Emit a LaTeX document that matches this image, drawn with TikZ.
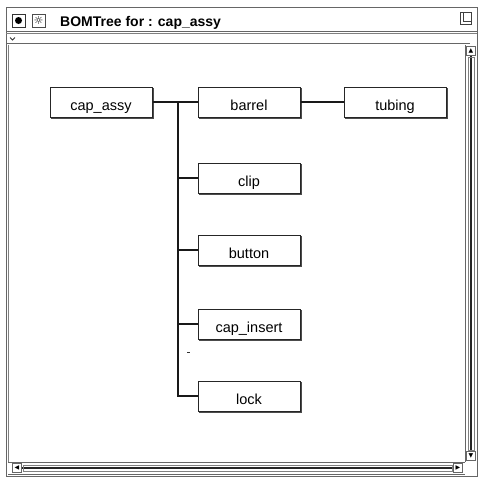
\documentclass[tikz,border=0pt]{standalone}
\usepackage{fontspec}
\setmainfont{Liberation Sans}
\usetikzlibrary{shadows}
\begin{document}
\begin{tikzpicture}[x=1pt,y=-1pt,
  part/.style={draw=black!85,line width=1pt,fill=white,minimum width=102pt,minimum height=30pt,inner sep=0pt,
    text height=16pt,text depth=0pt,font=\fontsize{14.5}{16}\selectfont,
    copy shadow={shadow xshift=1.5pt,shadow yshift=-1.5pt,draw=black!70,fill=white}},
  link/.style={line width=2.6pt,black!90},
  frame/.style={draw=black!60,line width=0.8pt},
  sbtn/.style={draw=black!60,line width=0.6pt,minimum width=9pt,minimum height=9pt,inner sep=0pt,font=\fontsize{6}{6}\selectfont}]
\useasboundingbox (0,0) rectangle (479,479);
\fill[white] (0,0) rectangle (479,479);
% window frame
\draw[frame] (6,7) rectangle (477,476);
\draw[frame] (6,31) -- (477,31);
\draw[black!50,line width=0.6pt] (6,33) -- (477,33);
\draw[frame] (6,43) -- (470,43);
\draw[black!50,line width=0.6pt] (8,45) -- (8,462);
% title icons
\node[draw=black!80,line width=0.9pt,minimum size=13pt,inner sep=0pt] (btn1) at (18.5,20.5) {};
\fill[black] (btn1) circle (3.5pt);
\node[draw=black!70,line width=0.9pt,minimum size=13pt,inner sep=0pt] (btn2) at (38.5,20.5) {};
\node[font=\fontsize{11}{11}\selectfont] at (btn2) {\fontspec{DejaVu Sans}☼};
\node[anchor=base west,font=\bfseries\fontsize{14}{16}\selectfont,inner sep=0pt] (title) at (60,26.5) {BOMTree for : cap\_assy};
\node[draw=black!75,line width=0.8pt,minimum width=11pt,minimum height=12pt,inner sep=0pt] (maxbtn) at (466,18.5) {};
\draw[black!75,line width=0.7pt] (463,13) -- (463,21) -- (471,21);
\draw[black!80,line width=0.8pt] (10,37.5) -- (12.5,40) -- (15,37.5);
% vertical scrollbar
\draw[frame] (465,45) -- (465,462);
\node[sbtn] (up) at (471,51) {\fontspec{DejaVu Sans}▲};
\node[sbtn] (down) at (471,456) {\fontspec{DejaVu Sans}▼};
\draw[black!85,line width=2.5pt] (up.south) -- (down.north);
\draw[black!50,line width=0.5pt] (468,57) rectangle (474,450);
% horizontal scrollbar
\draw[frame] (8,462) -- (465,462);
\node[sbtn] (left) at (17,468) {\fontspec{DejaVu Sans}◀};
\node[sbtn] (right) at (458,468) {\fontspec{DejaVu Sans}▶};
\draw[black!85,line width=2.5pt] (left.east) -- (right.west);
\draw[black!50,line width=0.5pt] (23,465) rectangle (452,471);
\draw[frame] (8,474) -- (465,474);
% nodes
\node[part] (cap) at (101,102) {cap\_assy};
\node[part] (barrel) at (249,102) {barrel};
\node[part] (tubing) at (395,102) {tubing};
\node[part] (clip) at (249,178) {clip};
\node[part] (button) at (249,250) {button};
\node[part] (insert) at (249,324) {cap\_insert};
\node[part] (lock) at (249,396) {lock};
% connectors
\coordinate (trunk) at (178,102);
\draw[link] (cap.east) -- (barrel.west);
\draw[link] (barrel.east) -- (tubing.west);
\draw[link] (trunk) |- (lock.west);
\draw[link] (trunk |- clip.west) -- (clip.west);
\draw[link] (trunk |- button.west) -- (button.west);
\draw[link] (trunk |- insert.west) -- (insert.west);
\draw[black!80,line width=1pt] (187,352) -- (190,352);
\end{tikzpicture}
\end{document}
